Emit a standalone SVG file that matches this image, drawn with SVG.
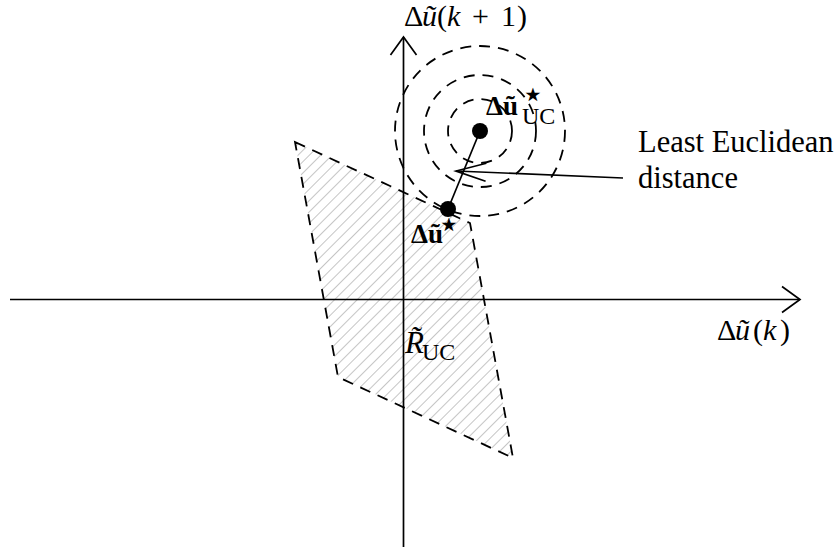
<svg xmlns="http://www.w3.org/2000/svg" width="838" height="549" viewBox="0 0 838 549">
<style>
.ax{stroke:#000;stroke-width:1.7;fill:none}
.dash{stroke:#000;stroke-width:1.8;fill:none;stroke-dasharray:11 8}
.ln{stroke:#000;stroke-width:1.7;fill:none}
.t{font-family:"Liberation Serif","Times New Roman",serif;fill:#000}
.i{font-style:italic}
.b{font-weight:bold}
.st{font-family:"DejaVu Sans",sans-serif;fill:#000}
</style>
<defs>
<pattern id="hatch" width="8" height="8" patternUnits="userSpaceOnUse" patternTransform="rotate(45)">
<line x1="0" y1="0" x2="0" y2="8" stroke="#8c8c8c" stroke-width="1"/>
</pattern>
<marker id="axhead" markerUnits="userSpaceOnUse" markerWidth="24" markerHeight="30" refX="0" refY="0" viewBox="-20 -15 22 30" orient="auto">
<path d="M-18,-13 L0,0 L-18,13" fill="none" stroke="#000" stroke-width="1.7"/>
</marker>
<marker id="ldhead" markerUnits="userSpaceOnUse" markerWidth="36" markerHeight="26" refX="0" refY="0" viewBox="-32 -13 34 26" orient="auto">
<path d="M-30,-9 L0,0 L-30,9" fill="none" stroke="#000" stroke-width="1.7"/>
</marker>
</defs>
<rect width="838" height="549" fill="#fff"/>

<g id="region">
<polygon points="295,142 470,223 513,458 338,377" fill="url(#hatch)" stroke="none"/>
<polygon class="dash" points="295,142 470,223 513,458 338,377"/>
</g>

<g id="axes">
<line class="ax" x1="10" y1="299.5" x2="800" y2="299.5" marker-end="url(#axhead)"/>
<line class="ax" x1="403.5" y1="547" x2="403.5" y2="37" marker-end="url(#axhead)"/>
</g>

<g id="contours">
<circle class="dash" cx="480" cy="131" r="32"/>
<circle class="dash" cx="480" cy="131" r="56"/>
<circle class="dash" cx="480" cy="131" r="85"/>
</g>

<g id="connectors">
<line class="ln" x1="480" y1="131" x2="448" y2="209"/>
<line class="ln" x1="623" y1="178" x2="456" y2="171" marker-end="url(#ldhead)"/>
</g>

<g id="point-uc">
<circle cx="480" cy="131" r="8" fill="#000"/>
<text class="t b" x="486" y="115" font-size="27">Δũ</text>
<text class="st" x="521" y="107" font-size="38">⋆</text>
<text class="t" x="522" y="124" font-size="24">UC</text>
</g>

<g id="point-opt">
<circle cx="448" cy="209" r="8" fill="#000"/>
<text class="t b" x="411" y="243" font-size="27">Δũ</text>
<text class="st" x="437" y="237" font-size="38">⋆</text>
</g>

<g id="label-region">
<text class="t i" x="405" y="353" font-size="31">R̃</text>
<text class="t" x="422" y="360" font-size="24">UC</text>
</g>

<g id="label-y">
<text class="t" y="26" font-size="30"><tspan x="404">Δ</tspan><tspan class="i" x="422">ũ</tspan><tspan x="437">(</tspan><tspan class="i" x="447">k</tspan><tspan x="472">+</tspan><tspan x="501">1</tspan><tspan x="517">)</tspan></text>
</g>

<g id="label-x">
<text class="t" y="340" font-size="30"><tspan x="717">Δ</tspan><tspan class="i" x="735">ũ</tspan><tspan x="753">(</tspan><tspan class="i" x="763">k</tspan><tspan x="780">)</tspan></text>
</g>

<g id="label-dist">
<text class="t" x="638" y="152" font-size="30.5">Least Euclidean</text>
<text class="t" x="638" y="188" font-size="30.5">distance</text>
</g>
</svg>
